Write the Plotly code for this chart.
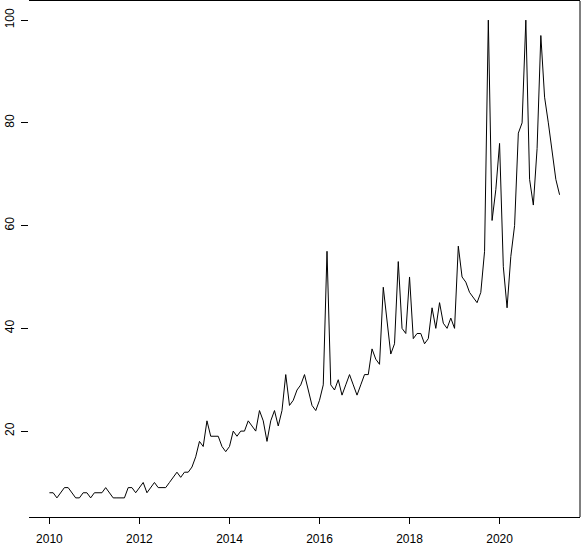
import plotly.graph_objects as go

start_year = 2010
values_2010 = [8, 8, 7, 8, 9, 9, 8, 7, 7, 8, 8, 7]
values_2011 = [8, 8, 8, 9, 8, 7, 7, 7, 7, 9, 9, 8]
values_2012 = [9, 10, 8, 9, 10, 9, 9, 9, 10, 11, 12, 11]
values_2013 = [12, 12, 13, 15, 18, 17, 22, 19, 19, 19, 17, 16]
values_2014 = [17, 20, 19, 20, 20, 22, 21, 20, 24, 22, 18, 22]
values_2015 = [24, 21, 24, 31, 25, 26, 28, 29, 31, 28, 25, 24]
values_2016 = [26, 29, 55, 29, 28, 30, 27, 29, 31, 29, 27, 29]
values_2017 = [31, 31, 36, 34, 33, 48, 41, 35, 37, 53, 40, 39]
values_2018 = [50, 38, 39, 39, 37, 38, 44, 40, 45, 41, 40, 42]
values_2019 = [40, 56, 50, 49, 47, 46, 45, 47, 55, 100, 61, 67]
values_2020 = [76, 52, 44, 54, 60, 78, 80, 100, 69, 64, 75, 97]
values_2021 = [85, 80, 75, 69, 66]

x_ticks = [2010, 2012, 2014, 2016, 2018, 2020]
y_ticks = [20, 40, 60, 80, 100]

values = (values_2010 + values_2011 + values_2012 + values_2013 + values_2014
          + values_2015 + values_2016 + values_2017 + values_2018 + values_2019
          + values_2020 + values_2021)
times = [start_year + i / 12 for i in range(len(values))]

# R-style 4% padding of the axis ranges
t_pad = (times[-1] - times[0]) * 0.04
v_pad = (max(values) - min(values)) * 0.04

fig = go.Figure(go.Scatter(x=times, y=values, mode="lines",
                           line=dict(color="black", width=1)))
fig.update_layout(
    width=582, height=546,
    margin=dict(l=29, r=2, t=1, b=29, autoexpand=False),
    plot_bgcolor="white", paper_bgcolor="white",
    showlegend=False,
    font=dict(family="Liberation Sans, Arial, sans-serif", size=12, color="black"),
)
fig.update_xaxes(
    range=[times[0] - t_pad, times[-1] + t_pad],
    tickvals=x_ticks, ticktext=[str(t) for t in x_ticks],
    ticks="outside", ticklen=6, tickcolor="black", tickwidth=1,
    showline=True, linecolor="black", linewidth=1, mirror=True,
    showgrid=False, zeroline=False, automargin=False,
    ticklabelstandoff=5,
)
fig.update_yaxes(
    range=[min(values) - v_pad, max(values) + v_pad],
    tickvals=y_ticks, ticktext=[str(t) for t in y_ticks],
    tickangle=-90,
    ticks="outside", ticklen=7, tickcolor="black", tickwidth=1,
    showline=False, showgrid=False, zeroline=False, automargin=False,
    ticklabelstandoff=2,
)
fig.add_shape(type="line", xref="paper", yref="paper", x0=1, x1=1, y0=0, y1=1,
              line=dict(color="black", width=1))

fig.write_html(
    "out.html",
    config={"displayModeBar": False},
    post_script="document.body.style.margin='0';document.body.style.overflow='hidden';",
)
